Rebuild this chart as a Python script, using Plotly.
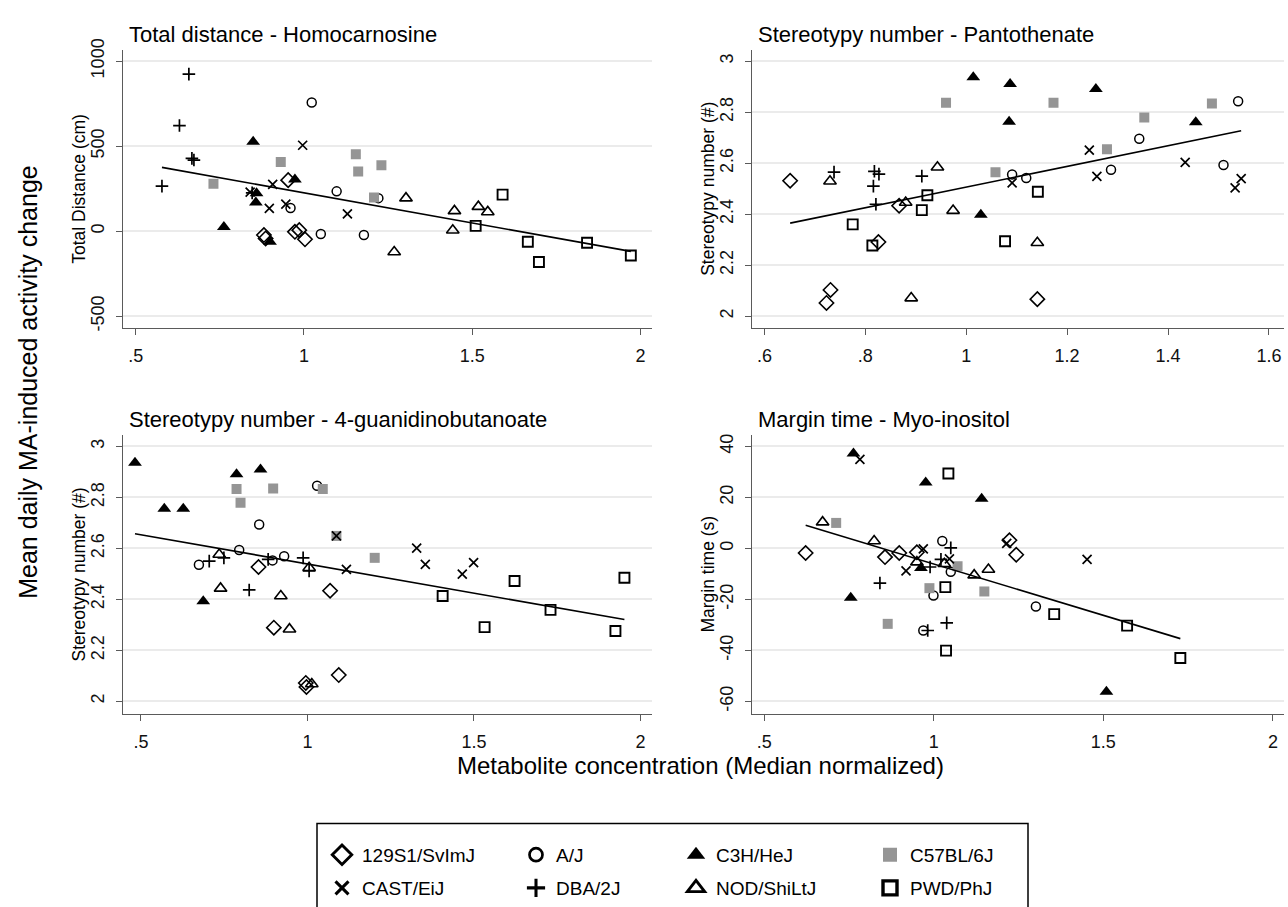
import numpy as np
import plotly.graph_objects as go

STRAINS = ["129S1/SvImJ", "A/J", "C3H/HeJ", "C57BL/6J", "CAST/EiJ", "DBA/2J", "NOD/ShiLtJ", "PWD/PhJ"]

# ---- Panel 1: Total distance - Homocarnosine (per strain, STRAINS order)
homocarnosine_x = [
    [0.953, 0.881, 0.886, 0.973, 0.986, 1.003],
    [1.023, 1.097, 0.960, 1.050, 1.178, 1.221],
    [0.849, 0.973, 0.859, 0.857, 0.762, 0.899],
    [0.731, 0.931, 1.154, 1.161, 1.230, 1.208],
    [0.996, 0.907, 0.897, 0.946, 1.129, 0.840],
    [0.658, 0.630, 0.667, 0.673, 0.578, 0.846],
    [1.303, 1.268, 1.447, 1.442, 1.518, 1.546],
    [1.590, 1.510, 1.665, 1.698, 1.841, 1.971],
]
total_distance_y = [
    [300, -23, -43, -4, 6, -48],
    [756, 234, 136, -17, -23, 194],
    [525, 304, 223, 169, 25, -62],
    [279, 406, 452, 350, 388, 198],
    [505, 275, 134, 159, 102, 230],
    [923, 621, 428, 418, 265, 225],
    [194, -123, 119, 5, 144, 113],
    [215, 31, -62, -181, -68, -143],
]

# ---- Panel 2: Stereotypy number - Pantothenate
pantothenate_x = [
    [0.651, 0.867, 0.826, 0.731, 0.723, 1.141],
    [1.091, 1.119, 1.343, 1.287, 1.510, 1.539],
    [1.014, 1.087, 1.085, 1.029, 1.257, 1.455],
    [0.960, 1.058, 1.173, 1.353, 1.279, 1.487],
    [1.091, 1.244, 1.259, 1.434, 1.533, 1.545],
    [0.738, 0.818, 0.827, 0.816, 0.912, 0.821],
    [0.730, 0.943, 0.880, 0.974, 0.891, 1.141],
    [0.775, 0.814, 0.912, 0.923, 1.077, 1.142],
]
stereotypy_p_y = [
    [2.531, 2.433, 2.291, 2.103, 2.052, 2.067],
    [2.556, 2.542, 2.696, 2.574, 2.593, 2.843],
    [2.937, 2.910, 2.762, 2.398, 2.891, 2.760],
    [2.837, 2.564, 2.837, 2.779, 2.655, 2.834],
    [2.523, 2.651, 2.548, 2.603, 2.503, 2.539],
    [2.565, 2.568, 2.557, 2.510, 2.549, 2.439],
    [2.529, 2.584, 2.446, 2.414, 2.071, 2.288],
    [2.360, 2.277, 2.416, 2.474, 2.294, 2.488],
]

# ---- Panel 3: Stereotypy number - 4-guanidinobutanoate
guanidinobutanoate_x = [
    [0.853, 1.068, 0.899, 1.094, 0.995, 0.997],
    [1.029, 0.855, 0.795, 0.674, 0.895, 0.930],
    [0.482, 0.570, 0.627, 0.787, 0.859, 0.687],
    [0.787, 0.799, 0.897, 1.046, 1.087, 1.202],
    [1.087, 1.117, 1.328, 1.354, 1.465, 1.499],
    [0.705, 0.749, 0.882, 0.987, 1.005, 0.825],
    [0.735, 0.739, 0.920, 0.946, 1.005, 1.013],
    [1.406, 1.532, 1.622, 1.730, 1.925, 1.952],
]
stereotypy_g_y = [
    [2.527, 2.434, 2.289, 2.103, 2.072, 2.056],
    [2.846, 2.694, 2.594, 2.536, 2.553, 2.569],
    [2.936, 2.756, 2.756, 2.891, 2.910, 2.393],
    [2.833, 2.779, 2.835, 2.833, 2.649, 2.563],
    [2.649, 2.518, 2.601, 2.537, 2.499, 2.544],
    [2.550, 2.563, 2.557, 2.563, 2.512, 2.437],
    [2.576, 2.443, 2.413, 2.283, 2.524, 2.068],
    [2.413, 2.291, 2.472, 2.359, 2.276, 2.485],
]

# ---- Panel 4: Margin time - Myo-inositol
myoinositol_x = [
    [0.622, 0.856, 0.898, 0.950, 1.223, 1.243],
    [1.025, 1.050, 0.999, 0.969, 1.301],
    [0.763, 0.976, 1.141, 0.755, 0.962, 1.509],
    [0.712, 1.070, 0.987, 1.149, 0.864],
    [0.782, 0.969, 0.918, 1.046, 1.215, 1.452],
    [1.050, 1.021, 0.989, 0.841, 1.038, 0.982],
    [0.672, 0.824, 0.950, 1.031, 1.119, 1.161],
    [1.043, 1.034, 1.036, 1.355, 1.570, 1.727],
]
margin_time_y = [
    [-1.8, -3.4, -1.8, -1.5, 3.2, -2.5],
    [2.9, -9.2, -18.5, -32.2, -22.8],
    [37.2, 25.9, 19.5, -19.4, -7.7, -56.2],
    [10.0, -7.0, -15.6, -16.9, -29.6],
    [34.9, -0.2, -8.8, -4.1, 2.0, -4.3],
    [0.2, -4.3, -7.3, -13.6, -29.2, -32.2],
    [10.3, 2.9, -5.4, -6.0, -10.5, -8.3],
    [29.4, -15.2, -40.1, -25.8, -30.3, -43.0],
]

PANEL_TITLES = ["Total distance - Homocarnosine", "Stereotypy number - Pantothenate",
                "Stereotypy number - 4-guanidinobutanoate", "Margin time - Myo-inositol"]
Y_TITLES = ["Total Distance (cm)", "Stereotypy number (#)", "Stereotypy number (#)", "Margin time (s)"]
X_TICKS_A = [0.5, 1, 1.5, 2]
X_TICKTEXT_A = [".5", "1", "1.5", "2"]
X_TICKS_B = [0.6, 0.8, 1.0, 1.2, 1.4, 1.6]
X_TICKTEXT_B = [".6", ".8", "1", "1.2", "1.4", "1.6"]
Y_TICKS_TD = [-500, 0, 500, 1000]
Y_TICKTEXT_TD = ["-500", "0", "500", "1000"]
Y_TICKS_ST = [2, 2.2, 2.4, 2.6, 2.8, 3]
Y_TICKTEXT_ST = ["2", "2.2", "2.4", "2.6", "2.8", "3"]
Y_TICKS_MT = [-60, -40, -20, 0, 20, 40]
Y_TICKTEXT_MT = ["-60", "-40", "-20", "0", "20", "40"]

# ---------------- styling ----------------
W, H = 1288, 907
FONT = "Liberation Sans, Arial, sans-serif"
GRAY = "#959595"
STYLE = {
    "129S1/SvImJ": dict(symbol="diamond-open", size=11, color="black", lw=1.6),
    "A/J": dict(symbol="circle-open", size=9, color="black", lw=1.5),
    "C3H/HeJ": dict(symbol="triangle-up", size=12, color="black", lw=0),
    "C57BL/6J": dict(symbol="square", size=10, color=GRAY, lw=0),
    "CAST/EiJ": dict(symbol="x-thin", size=9, color="black", lw=1.7),
    "DBA/2J": dict(symbol="cross-thin", size=9, color="black", lw=1.7),
    "NOD/ShiLtJ": dict(symbol="triangle-up-open", size=11, color="black", lw=1.6),
    "PWD/PhJ": dict(symbol="square-open", size=10, color="black", lw=1.9),
}

def px_x(p):
    return p / W

def px_y(p):
    return 1 - p / H

LEFT_DOM = [px_x(122.7), px_x(652)]
RIGHT_DOM = [px_x(751.7), px_x(1284)]
TOP_DOM = [px_y(322.7), px_y(39.3)]
BOT_DOM = [px_y(715.7), px_y(431.6)]

panels = [
    dict(x=homocarnosine_x, y=total_distance_y, xd=LEFT_DOM, yd=TOP_DOM,
         xr=[0.4614, 2.0339], yr=[-569.5, 1067.4], xt=X_TICKS_A, xtt=X_TICKTEXT_A,
         yt=Y_TICKS_TD, ytt=Y_TICKTEXT_TD),
    dict(x=pantothenate_x, y=stereotypy_p_y, xd=RIGHT_DOM, yd=TOP_DOM,
         xr=[0.5748, 1.6299], yr=[1.9538, 3.0451], xt=X_TICKS_B, xtt=X_TICKTEXT_B,
         yt=Y_TICKS_ST, ytt=Y_TICKTEXT_ST),
    dict(x=guanidinobutanoate_x, y=stereotypy_g_y, xd=LEFT_DOM, yd=BOT_DOM,
         xr=[0.4451, 2.0348], yr=[1.9499, 3.0451], xt=X_TICKS_A, xtt=X_TICKTEXT_A,
         yt=Y_TICKS_ST, ytt=Y_TICKTEXT_ST),
    dict(x=myoinositol_x, y=margin_time_y, xd=RIGHT_DOM, yd=BOT_DOM,
         xr=[0.4629, 2.0327], yr=[-65.0, 44.5], xt=X_TICKS_A, xtt=X_TICKTEXT_A,
         yt=Y_TICKS_MT, ytt=Y_TICKTEXT_MT),
]

fig = go.Figure()
layout = dict(
    width=W, height=H, margin=dict(l=0, r=0, t=0, b=0),
    paper_bgcolor="white", plot_bgcolor="white",
    font=dict(family=FONT, color="black", size=18),
    showlegend=True,
)

AXLINE = "#5a5a5a"
for i, p in enumerate(panels):
    n = i + 1
    xa = "x" if n == 1 else f"x{n}"
    ya = "y" if n == 1 else f"y{n}"
    for s, strain in enumerate(STRAINS):
        st = STYLE[strain]
        fig.add_trace(go.Scatter(
            x=p["x"][s], y=p["y"][s], mode="markers", xaxis=xa, yaxis=ya,
            showlegend=False, name=strain,
            marker=dict(symbol=st["symbol"], size=st["size"], color=st["color"],
                        line=dict(color=st["color"], width=st["lw"])),
        ))
    allx = np.concatenate([np.asarray(v, float) for v in p["x"]])
    ally = np.concatenate([np.asarray(v, float) for v in p["y"]])
    b, a = np.polyfit(allx, ally, 1)
    lx = np.array([allx.min(), allx.max()])
    fig.add_trace(go.Scatter(x=lx, y=a + b * lx, mode="lines", xaxis=xa, yaxis=ya,
                             showlegend=False, line=dict(color="black", width=1.6),
                             hoverinfo="skip"))
    xkey = "xaxis" if n == 1 else f"xaxis{n}"
    ykey = "yaxis" if n == 1 else f"yaxis{n}"
    layout[xkey] = dict(domain=p["xd"], range=p["xr"], anchor=ya, showgrid=False,
                        zeroline=False, showline=True, linecolor=AXLINE, linewidth=1.2,
                        ticks="outside", ticklen=6, tickcolor=AXLINE, tickwidth=1.2,
                        tickvals=p["xt"], ticktext=p["xtt"], ticklabelstandoff=5,
                        tickfont=dict(size=18, color="#111111", family=FONT))
    layout[ykey] = dict(domain=p["yd"], range=p["yr"], anchor=xa, showgrid=True,
                        gridcolor="#ebebeb", gridwidth=1.5, zeroline=False,
                        showline=True, linecolor=AXLINE, linewidth=1.2,
                        ticks="outside", ticklen=6, tickcolor=AXLINE, tickwidth=1.2,
                        tickvals=p["yt"], ticktext=p["ytt"], tickangle=-90,
                        ticklabelstandoff=4,
                        tickfont=dict(size=18, color="#111111", family=FONT))

# ---------- legend (one legend per entry, Stata-like 2 x 4 grid) ----------
LEG_ROWS = [859, 893]
LEG_TEXT_X = [366, 560, 720, 914]
for s, strain in enumerate(STRAINS):
    st = STYLE[strain]
    row, col = divmod(s, 4)
    lname = "legend" if s == 0 else f"legend{s + 1}"
    fig.add_trace(go.Scatter(
        x=[None], y=[None], mode="markers", name=strain, legend=lname, showlegend=True,
        marker=dict(symbol=st["symbol"], size=st["size"] + 4, color=st["color"],
                    line=dict(color=st["color"], width=(st["lw"] * 1.8 if st["lw"] else 0))),
    ))
    layout[lname] = dict(x=px_x(LEG_TEXT_X[col] - 44), y=px_y(LEG_ROWS[row]),
                         xanchor="left", yanchor="middle", bgcolor="rgba(0,0,0,0)",
                         borderwidth=0, font=dict(size=19, family=FONT, color="black"),
                         itemclick=False, itemdoubleclick=False)

shapes = [dict(type="rect", xref="paper", yref="paper", x0=px_x(317), x1=px_x(1028),
               y0=-0.01, y1=px_y(827), line=dict(color="black", width=1.5),
               fillcolor="rgba(0,0,0,0)")]

annotations = []
title_pos = [(126.7, 24), (755.7, 24), (126.7, 416.3), (755.7, 416.3)]
for t, (tx, ty) in zip(PANEL_TITLES, title_pos):
    annotations.append(dict(text=t, x=px_x(tx), y=px_y(ty), xref="paper", yref="paper",
                            xanchor="left", yanchor="middle", showarrow=False,
                            font=dict(size=22, family=FONT, color="black")))
ytitle_pos = [(79, (39.3 + 322.7) / 2), (708, (39.3 + 322.7) / 2),
              (79, (431.6 + 715.7) / 2), (708, (431.6 + 715.7) / 2)]
for t, (tx, ty) in zip(Y_TITLES, ytitle_pos):
    annotations.append(dict(text=t, x=px_x(tx), y=px_y(ty), xref="paper", yref="paper",
                            xanchor="center", yanchor="middle", textangle=-90,
                            showarrow=False, font=dict(size=17.5, family=FONT, color="black")))
annotations.append(dict(text="Mean daily MA-induced activity change", x=px_x(28), y=px_y(377.5),
                        xref="paper", yref="paper", xanchor="center", yanchor="middle",
                        textangle=-90, showarrow=False,
                        font=dict(size=25, family=FONT, color="black")))
annotations.append(dict(text="Metabolite concentration (Median normalized)", x=px_x(700),
                        y=px_y(768), xref="paper", yref="paper", xanchor="center",
                        yanchor="middle", showarrow=False,
                        font=dict(size=24, family=FONT, color="black")))

layout["shapes"] = shapes
layout["annotations"] = annotations
fig.update_layout(**layout)
fig.write_html(
    "out.html",
    config={"displayModeBar": False},
    post_script="document.documentElement.style.margin='0';document.body.style.margin='0';"
                "document.body.style.padding='0';document.body.style.overflow='hidden';",
)
